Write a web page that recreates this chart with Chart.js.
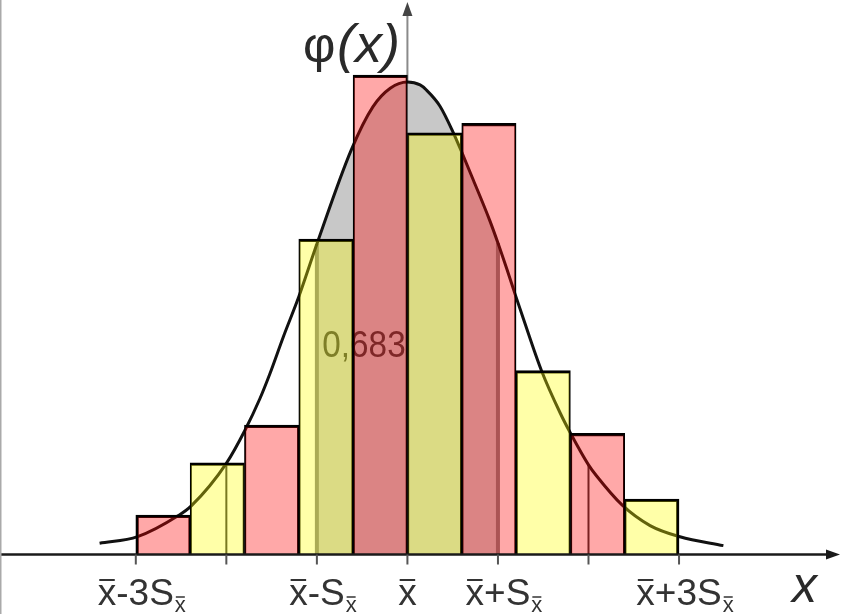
<!DOCTYPE html>
<html><head><meta charset="utf-8">
<script src="https://cdn.jsdelivr.net/npm/chart.js@4/dist/chart.umd.min.js"></script>
<style>html,body{margin:0;padding:0;background:#fff;overflow:hidden}canvas{display:block}</style>
</head><body>
<canvas id="c" width="842" height="614"></canvas>
<script>
// ---- data (x in units of S, y = relative density) ----
const binCenters = [-2.7, -2.1, -1.5, -0.9, -0.3, 0.3, 0.9, 1.5, 2.1, 2.7];
const binHeights = [0.0335, 0.0778, 0.1098, 0.2674, 0.4064, 0.3575, 0.3655, 0.1558, 0.1027, 0.0470];
const curveX = [-3.40, -2.98, -2.53, -2.39, -2.0, -1.79, -1.63, -1.52, -1.37, -1.2, -1.0, -0.62, -0.38, -0.19, 0,
                0.14, 0.21, 0.36, 0.51, 0.6, 0.73, 0.91, 1.0, 1.1, 1.19, 1.28, 1.48, 1.69, 1.8, 2.0, 2.09, 2.37, 2.68, 3.01, 3.49];
const curveY = [0.0095, 0.0151, 0.0330, 0.0410, 0.0773, 0.106, 0.132, 0.153, 0.1846, 0.2185, 0.2632, 0.343, 0.3796, 0.3952, 0.4005,
                0.398, 0.3937, 0.380, 0.357, 0.341, 0.317, 0.283, 0.264, 0.2415, 0.2205, 0.200, 0.156, 0.1195, 0.103, 0.076, 0.0665, 0.042, 0.0245, 0.015, 0.0075];
const tickValues = [-3, -2, -1, 0, 1, 2, 3];
const tickLabels = ['x-3S', '', 'x-S', 'x', 'x+S', '', 'x+3S'];
const markerValues = [-2, -1, 1, 2];
const shadeRange = [-1, 1];
const areaLabel = '0,683';
const yTitleParts = ['\u03C6', '(x)'];
const xTitle = 'x';

// ---- derived ----
const curvePts = curveX.map((x, i) => ({x, y: curveY[i]}));
const shadePts = curvePts.filter(p => p.x >= shadeRange[0] && p.x <= shadeRange[1]);
const heightAt = v => curveY[curveX.indexOf(v)];

const PINK = 'rgba(255,0,0,0.34)', YELLOW = 'rgba(255,255,0,0.34)';
const FONT = '"Liberation Sans", Arial, sans-serif';
const last = binCenters.length - 1;

const datasets = [
  {type: 'bar', data: binCenters.map((x, i) => ({x, y: binHeights[i]})),
   backgroundColor: binCenters.map((_, i) => i % 2 ? YELLOW : PINK),
   borderColor: '#000',
   borderWidth: c => ({top: 2.6, bottom: 0, left: c.dataIndex === 0 ? 2.6 : 1.4, right: c.dataIndex === last ? 2.6 : 1.4}),
   borderSkipped: 'start', barPercentage: 1, categoryPercentage: 1, order: 1},
  {type: 'line', data: curvePts, borderColor: '#111', borderWidth: 3, pointRadius: 0,
   cubicInterpolationMode: 'monotone', fill: false, order: 2},
  ...markerValues.map(v => ({type: 'line', data: [{x: v, y: 0}, {x: v, y: heightAt(v)}],
   borderColor: Math.abs(v) === 1 ? '#808080' : '#333', borderWidth: Math.abs(v) === 1 ? 4 : 2,
   pointRadius: 0, fill: false, order: 3})),
  {type: 'line', data: shadePts, borderWidth: 0, borderColor: 'rgba(0,0,0,0)', backgroundColor: '#c8c8c8',
   fill: 'origin', pointRadius: 0, cubicInterpolationMode: 'monotone', order: 4}
];

function overline(ctx, x1, x2, y, w) {
  ctx.save(); ctx.lineWidth = w; ctx.beginPath(); ctx.moveTo(x1, y); ctx.lineTo(x2, y); ctx.stroke(); ctx.restore();
}

const deco = {
  id: 'deco',
  beforeDatasetsDraw(chart) {
    const {ctx} = chart, xs = chart.scales.x, ys = chart.scales.y;
    const x0 = xs.getPixelForValue(0), yb = ys.getPixelForValue(0);
    ctx.save();
    ctx.strokeStyle = '#8a8a8a'; ctx.lineWidth = 2;
    ctx.beginPath(); ctx.moveTo(x0, yb); ctx.lineTo(x0, 14); ctx.stroke();
    ctx.fillStyle = '#444';
    ctx.beginPath(); ctx.moveTo(x0, 2); ctx.lineTo(x0 - 5, 16); ctx.lineTo(x0 + 5, 16); ctx.closePath(); ctx.fill();
    ctx.restore();
  },
  beforeDatasetDraw(chart, args) {
    if (args.index !== 0) return;
    const {ctx} = chart, xs = chart.scales.x, ys = chart.scales.y;
    ctx.save();
    ctx.fillStyle = '#3c3c3c';
    ctx.font = '37px ' + FONT;
    ctx.textBaseline = 'alphabetic';
    ctx.translate(xs.getPixelForValue(-0.94), ys.getPixelForValue(0.1674));
    ctx.scale(0.9, 1);
    ctx.fillText(areaLabel, 0, 0);
    ctx.restore();
  },
  afterDatasetsDraw(chart) {
    const {ctx} = chart, xs = chart.scales.x, ys = chart.scales.y;
    const yb = ys.getPixelForValue(0);
    ctx.save();
    // x axis
    ctx.strokeStyle = '#1a1a1a'; ctx.lineWidth = 2.5;
    ctx.beginPath(); ctx.moveTo(0, yb); ctx.lineTo(830, yb); ctx.stroke();
    ctx.fillStyle = '#1a1a1a';
    ctx.beginPath(); ctx.moveTo(840, yb); ctx.lineTo(826, yb - 5); ctx.lineTo(826, yb + 5); ctx.closePath(); ctx.fill();
    // ticks
    ctx.strokeStyle = '#555'; ctx.lineWidth = 2;
    tickValues.forEach(v => {
      const px = xs.getPixelForValue(v);
      ctx.beginPath(); ctx.moveTo(px, yb); ctx.lineTo(px, yb + 10); ctx.stroke();
    });
    // tick labels
    ctx.fillStyle = '#333'; ctx.strokeStyle = '#333'; ctx.textBaseline = 'alphabetic';
    const base = 605;
    tickValues.forEach((v, i) => {
      const lab = tickLabels[i];
      if (!lab) return;
      const cx = xs.getPixelForValue(v);
      ctx.font = '37px ' + FONT;
      const w = ctx.measureText(lab).width;
      const left = cx - w / 2;
      ctx.fillText(lab, left, base);
      const xw = ctx.measureText('x').width;
      overline(ctx, left + 1.5, left + xw - 1.5, base - 25, 2);
      if (lab.length > 1) {
        ctx.font = '22px ' + FONT;
        const sx = left + w + 1;
        ctx.fillText('x', sx, base + 7);
        const sw = ctx.measureText('x').width;
        overline(ctx, sx + 1, sx + sw - 1, base + 7 - 15, 1.5);
      }
    });
    // axis titles
    ctx.fillStyle = '#2a2a2a';
    ctx.font = '50px ' + FONT;
    ctx.fillText(yTitleParts[0], 303, 62);
    ctx.font = 'italic 54px ' + FONT;
    ctx.fillText(yTitleParts[1], 337, 62);
    ctx.font = 'italic 50px ' + FONT;
    ctx.fillText(xTitle, 792, 602);
    // frame edge
    ctx.strokeStyle = '#aaa'; ctx.lineWidth = 1.5;
    ctx.beginPath(); ctx.moveTo(0.75, 0); ctx.lineTo(0.75, 614); ctx.stroke();
    ctx.restore();
  }
};

new Chart(document.getElementById('c'), {
  type: 'scatter',
  data: {datasets},
  options: {
    responsive: false, animation: false, devicePixelRatio: 1,
    layout: {padding: {left: 0, right: 0, top: 0, bottom: 59.5}},
    plugins: {legend: {display: false}, tooltip: {enabled: false}},
    scales: {
      x: {type: 'linear', min: -4.5, max: 4.8, display: false, offset: false, ticks: {stepSize: 10}},
      y: {type: 'linear', min: 0, max: 0.47, display: false, ticks: {stepSize: 10}}
    }
  },
  plugins: [deco]
});
</script>
</body></html>
